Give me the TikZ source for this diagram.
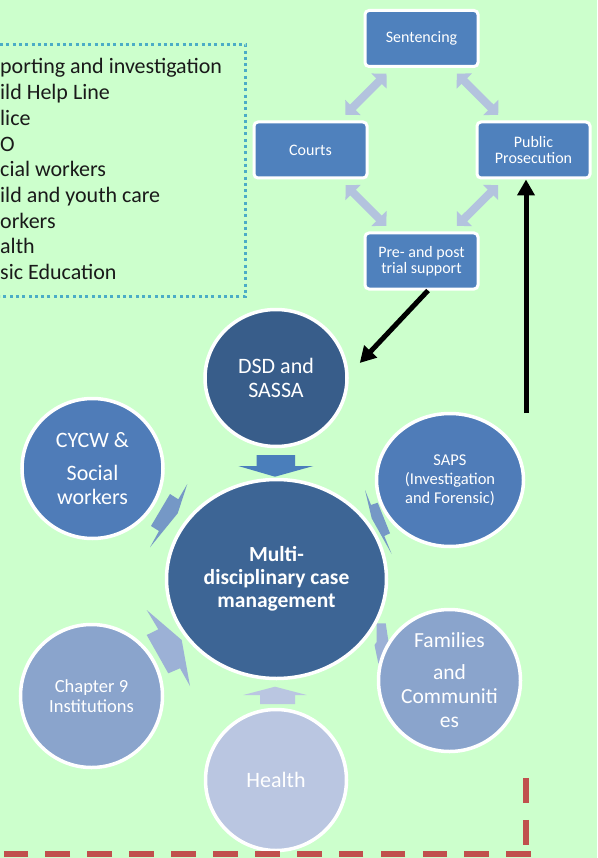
\documentclass[tikz,border=0pt]{standalone}
\usepackage{fontspec}
\setmainfont{Carlito}
\usepackage{tikz}
\usetikzlibrary{shapes.geometric,arrows.meta,positioning,calc}
\definecolor{bgreen}{HTML}{CCFFCC}
\definecolor{boxblue}{HTML}{4F81BD}
\definecolor{pale}{HTML}{B3C3DE}
\definecolor{dsdblue}{HTML}{385D8A}
\definecolor{hubblue}{HTML}{3D6595}
\definecolor{midblue}{HTML}{4F7CB8}
\definecolor{softblue}{HTML}{8AA4CC}
\definecolor{paleblue}{HTML}{BAC6E1}
\definecolor{arrowA}{HTML}{4A7EBB}
\definecolor{arrowB}{HTML}{7598C6}
\definecolor{arrowC}{HTML}{9CB1D6}
\definecolor{dotcyan}{HTML}{4BACC6}
\definecolor{dashred}{HTML}{C0504D}
\definecolor{inkgray}{HTML}{1A1A1A}

\begin{document}
\begin{tikzpicture}[x=1pt, y=-1pt,
  stage/.style={draw=white, line width=3pt, rounded corners=4pt, fill=boxblue, text=white,
    minimum width=113pt, minimum height=56pt, align=center, font=\fontsize{16}{16.5}\selectfont},
  orb/.style={ellipse, draw=white, line width=3.5pt, inner sep=0pt, text=white, align=center},
  twoway/.style={pale, line width=8pt, {Triangle[width=21pt,length=10.5pt]}-{Triangle[width=21pt,length=10.5pt]},
    shorten <=8pt, shorten >=8pt},
  pushline/.style={black, line width=5pt, -{Triangle[width=17pt,length=16pt]}},
  listline/.style={anchor=base west, inner sep=0pt, text=inkgray, font=\fontsize{22}{25}\selectfont},
  dashline/.style={dashred, line width=5.5pt, dash pattern=on 24.7pt off 17.2pt}]
  \useasboundingbox (0,0) rectangle (597,858);
  \fill[bgreen] (0,0) rectangle (597,858);

  % list box
  \draw[dotcyan, line width=3.3pt, dash pattern=on 3pt off 3.3pt] (0,44.3) -| (245.7,296.3) -- (0,296.3);
  \foreach \txt [count=\i] in {porting and investigation, ild Help Line, lice, O, cial workers,
      ild and youth care, orkers, alth, sic Education}
    \node[listline] (l\i) at (0,{74+25.7*(\i-1)}) {\txt};

  % justice cycle
  \node[stage] (sent) at (421.5,38.5) {Sentencing};
  \node[stage] (courts) at (310.5,150) {Courts};
  \node[stage, right=107pt of courts] (pros) {Public\\Prosecution};
  \node[stage, below=163.5pt of sent] (pre) {Pre- and post\\trial support};
  \draw[twoway] (sent) -- (courts);
  \draw[twoway] (sent) -- (pros);
  \draw[twoway] (courts) -- (pre);
  \draw[twoway] (pros) -- (pre);

  % block arrows towards the hub
  \fill[arrowA] (256.7,455) -- (295,455) -- (295,466) -- (313.3,466) -- (275,476.7) -- (238.3,466) -- (256.7,466) -- cycle;
  \fill[paleblue] (260,704) -- (295,704) -- (295,695) -- (306.7,695) -- (275,686.7) -- (243.3,695) -- (260,695) -- cycle;
  \fill[arrowB] (187.3,484) -- (178.3,499.3) -- (170,494) -- (151,526) -- (159,531) -- (150,547.3) -- (177.7,513.3) -- cycle;
  \fill[arrowB] (365,490) -- (371,505) -- (377.7,502.7) -- (390,533.3) -- (384.3,536) -- (391.7,554) -- (371.7,518.3) -- cycle;
  \fill[arrowC] (146.7,610) -- (158.3,629.3) -- (146.7,635) -- (168.3,673.3) -- (180,668.3) -- (190,686) -- (181.7,640) -- cycle;
  \fill[arrowC] (376.7,623.3) -- (385.7,623.3) -- (392,665) -- (378.3,663.3) -- (374.5,645) -- (376.7,642) -- cycle;

  % agencies
  \node[orb, fill=dsdblue, minimum width=142pt, minimum height=137pt, font=\fontsize{22}{24}\selectfont] (dsd) at (276,378) {DSD and\\SASSA};
  \node[orb, fill=midblue, minimum width=141pt, minimum height=140pt, font=\fontsize{22}{24}\selectfont] (cycw) at (92.5,468.5) {CYCW \&\\[9pt]Social\\workers};
  \node[orb, fill=hubblue, minimum width=220pt, minimum height=199pt, font=\fontsize{21.5}{23}\selectfont\bfseries] (hub) at (276.5,579) {Multi-\\disciplinary case\\management};
  \node[orb, fill=midblue, minimum width=147pt, minimum height=133pt, font=\fontsize{16.5}{19}\selectfont] (saps) at (450,480) {SAPS\\(Investigation\\and Forensic)};
  \node[orb, fill=softblue, minimum width=142pt, minimum height=142pt, font=\fontsize{21.5}{24}\selectfont] (fam) at (449.5,680.5) {Families\\[8pt]and\\Communiti\\es};
  \node[orb, fill=softblue, minimum width=142pt, minimum height=143pt, font=\fontsize{18.5}{20}\selectfont] (chap) at (91.5,696) {Chapter 9\\Institutions};
  \node[orb, fill=paleblue, minimum width=141pt, minimum height=141pt, font=\fontsize{22}{24}\selectfont] (health) at (276,780) {Health};

  % referrals
  \coordinate (tail) at (526,413);
  \draw[pushline] ([xshift=6.5pt]pre.south) -- ($(dsd.east)+(11,-15)$);
  \draw[pushline] (tail) -- ([xshift=-7.5pt]pros.south);

  \draw[dashline] (531,854) -- (0,854);
  \draw[dashline] (526,778) -- (526,854);
\end{tikzpicture}
\end{document}
